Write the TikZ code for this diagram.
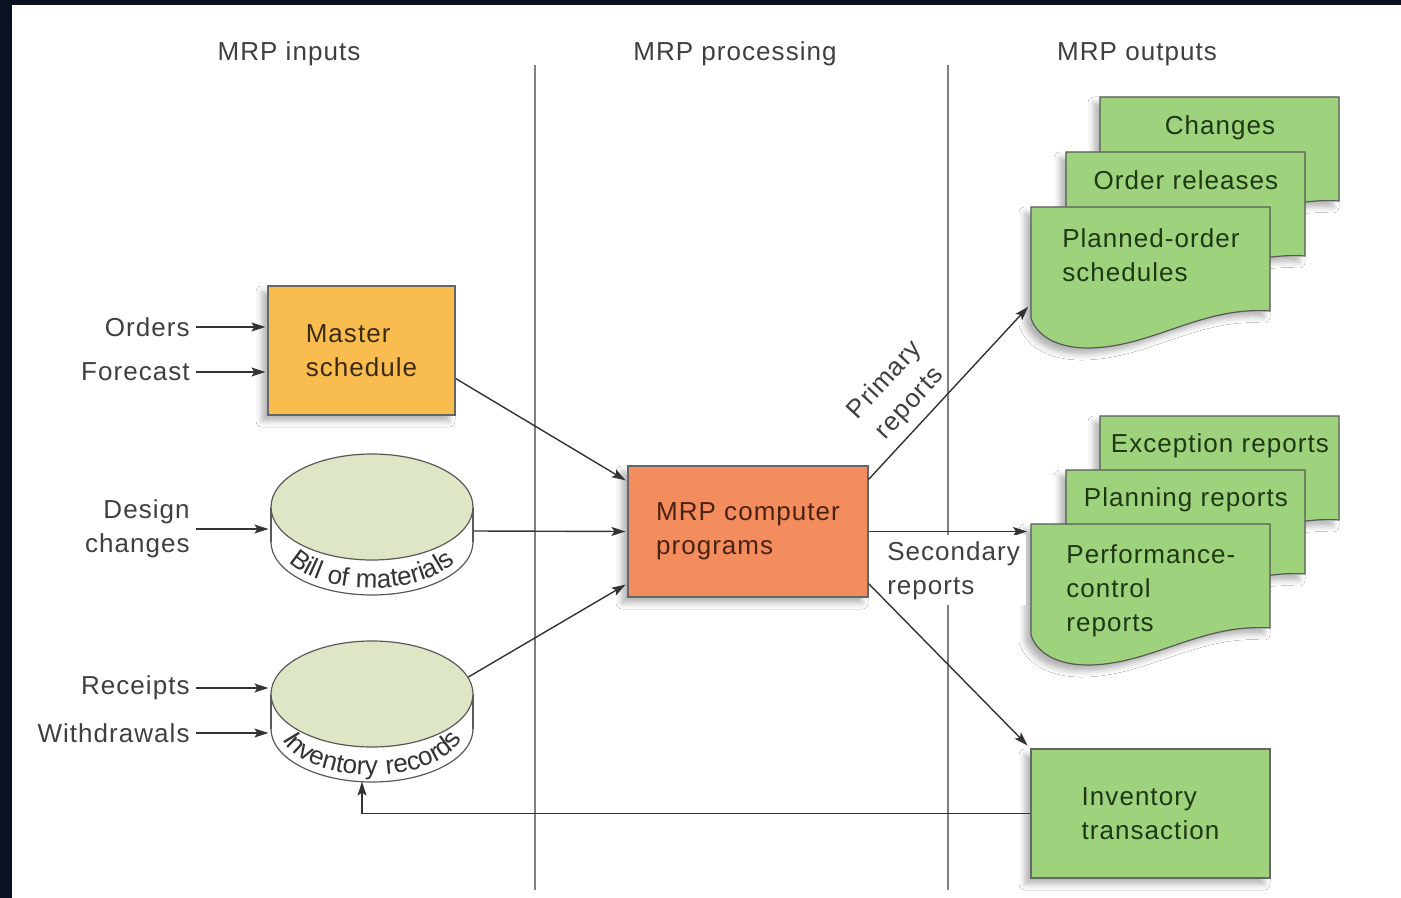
\documentclass[tikz,border=0pt]{standalone}
\usepackage{fontspec}
\setmainfont[LetterSpace=4]{Liberation Sans}
\usepackage{tikz}
\usetikzlibrary{arrows.meta,positioning,shapes.geometric,shadows.blur,decorations.text}
\definecolor{framebg}{HTML}{0B1122}
\definecolor{labelgray}{HTML}{3F3F3F}
\definecolor{masterfill}{HTML}{F8BD4E}
\definecolor{mastertext}{HTML}{3B2A10}
\definecolor{mrpfill}{HTML}{F38D5E}
\definecolor{mrptext}{HTML}{4A2211}
\definecolor{reportgreen}{HTML}{9ED27C}
\definecolor{reporttext}{HTML}{1F3814}
\definecolor{diskgreen}{HTML}{DDE6C5}
\newcommand{\disktext}{\fontsize{13}{15}\selectfont\color{black!80}}

\begin{document}
\begin{tikzpicture}[
  x=0.5pt, y=-0.5pt,
  font=\fontsize{13}{17}\selectfont,
  every node/.style={align=center},
  heading/.style={text=labelgray},
  divider/.style={draw=black!50,line width=.6pt},
  flowtext/.style={text=labelgray,inner sep=3pt},
  lifted/.style={blur shadow={shadow xshift=-3pt,shadow yshift=-3pt,shadow blur radius=3pt,shadow opacity=30}},
  process/.style={draw=black!60,line width=.6pt,lifted,align=left,minimum height=64.5pt},
  report/.style={draw=black!65,line width=.6pt,fill=reportgreen,lifted},
  doctext/.style={anchor=north west,minimum width=119.5pt,inner sep=0pt,text=reporttext},
  record/.style={draw=black!65,line width=.6pt},
  disk/.style={record,ellipse,fill=diskgreen,minimum width=101pt,minimum height=53pt,inner sep=0pt},
  disklabel/.style={decorate,decoration={text along path,text align=center,text={|\disktext|#1}}},
  to/.style={->,>={Stealth[length=7pt,width=4.5pt,inset=1.5pt]},shorten >=1pt,draw=black!80,line width=.7pt}]

  % frame and page
  \fill[framebg] (0,0) rectangle (1401,898);
  \fill[white] (12,5) rectangle (1401,898);
  \useasboundingbox (0,0) rectangle (1401,898);

  % column headings and dividers
  \node[heading] (inputs) at (289,54) {MRP inputs};
  \node[heading] (processing) at (735,54) {MRP processing};
  \node[heading] (outputs) at (1137,54) {MRP outputs};
  \draw[divider] (535,65) -- (535,890);
  \draw[divider] (948,65) -- (948,890);

  % report stacks, back to front
  \foreach \x/\y in {1100/97,1066/152,1031/207,1100/416,1066/470,1031/524}
    \filldraw[report,shift={(\x,\y)}] (0,0) -- (239,0) -- (239,104)
      .. controls (169,99) and (119,142) .. (54,141)
      .. controls (19,140) and (4,124) .. (0,111) -- cycle;
  \node[doctext,minimum height=30pt] (changes) at (1100,97) {Changes};
  \node[doctext,minimum height=28pt] (releases) at (1066,152) {Order releases};
  \node[doctext,minimum height=48pt,align=left] (planned) at (1031,207) {Planned-order\\schedules};
  \node[doctext,minimum height=29pt] (exception) at (1100,416) {Exception reports};
  \node[doctext,minimum height=29pt] (planning) at (1066,470) {Planning reports};
  \node[doctext,minimum height=66pt,align=left] (perf) at (1031,524) {Performance-\\control\\reports};

  % boxes
  \node[process,fill=masterfill,text=mastertext,minimum width=93.5pt] (master) at (361.5,350.5) {Master\\schedule};
  \node[process,fill=mrpfill,text=mrptext,minimum width=120pt,minimum height=65.5pt] (mrp) at (748,531.5) {MRP computer\\programs};
  \node[process,fill=reportgreen,text=reporttext,minimum width=119.5pt] (invtrans) at (1150.5,813.5) {Inventory\\transaction};

  % bill of materials file
  \filldraw[record,fill=white] (372,542) ellipse [x radius=101,y radius=53];
  \fill[white] (271,507) rectangle (473,542);
  \draw[record] (271,507) -- (271,542) (473,507) -- (473,542);
  \path[disklabel=Bill of materials] (280,542) .. controls (280,567) and (321,588) .. (372,588)
    .. controls (423,588) and (464,567) .. (464,542);
  \node[disk] (bom) at (372,507) {};

  % inventory records file
  \filldraw[record,fill=white] (372,729) ellipse [x radius=101,y radius=53];
  \fill[white] (271,694) rectangle (473,729);
  \draw[record] (271,694) -- (271,729) (473,694) -- (473,729);
  \path[disklabel=Inventory records] (280,729) .. controls (280,754) and (321,775) .. (372,775)
    .. controls (423,775) and (464,754) .. (464,729);
  \node[disk] (inv) at (372,694) {};

  % inputs
  \node[flowtext,anchor=east] (orders) at (196,327) {Orders};
  \node[flowtext,anchor=east] (forecast) at (196,372) {Forecast};
  \node[flowtext,anchor=east,align=right] (design) at (196,529) {Design\\changes};
  \node[flowtext,anchor=east] (receipts) at (196,688) {Receipts};
  \node[flowtext,anchor=east] (withdrawals) at (196,733) {Withdrawals};

  % arrows
  \draw[to] (orders) -- (orders -| master.west);
  \draw[to] (forecast) -- (forecast -| master.west);
  \draw[to] (design) -- (design -| bom.west);
  \draw[to] (receipts) -- (receipts -| inv.west);
  \draw[to] (withdrawals) -- (withdrawals -| inv.west);
  \draw[to] ([yshift=-14pt]master.east) -- ([yshift=-8pt]mrp.north west);
  \draw[to] ([yshift=-12pt]bom.east) -- (mrp.west);
  \draw[to] (inv.10) -- ([yshift=7pt]mrp.south west);
  \draw[to,shorten >=2pt] ([yshift=-7pt]mrp.north east) -- node[flowtext,pos=.35,above,sloped,inner sep=4pt] {Primary\\reports} (planned.south west);
  \draw[to,shorten >=2pt] (mrp.east) -- node[flowtext,pos=0,anchor=north west,xshift=6pt,yshift=-1.5pt,fill=white,align=left] {Secondary\\reports} (mrp.east -| perf.west);
  \draw[to,shorten >=2pt] ([yshift=7pt]mrp.south east) -- (invtrans.north west);
  \draw[to,shorten >=0pt] (invtrans.west) -| ([xshift=-5pt,yshift=-17pt]inv.south);

\end{tikzpicture}
\end{document}
